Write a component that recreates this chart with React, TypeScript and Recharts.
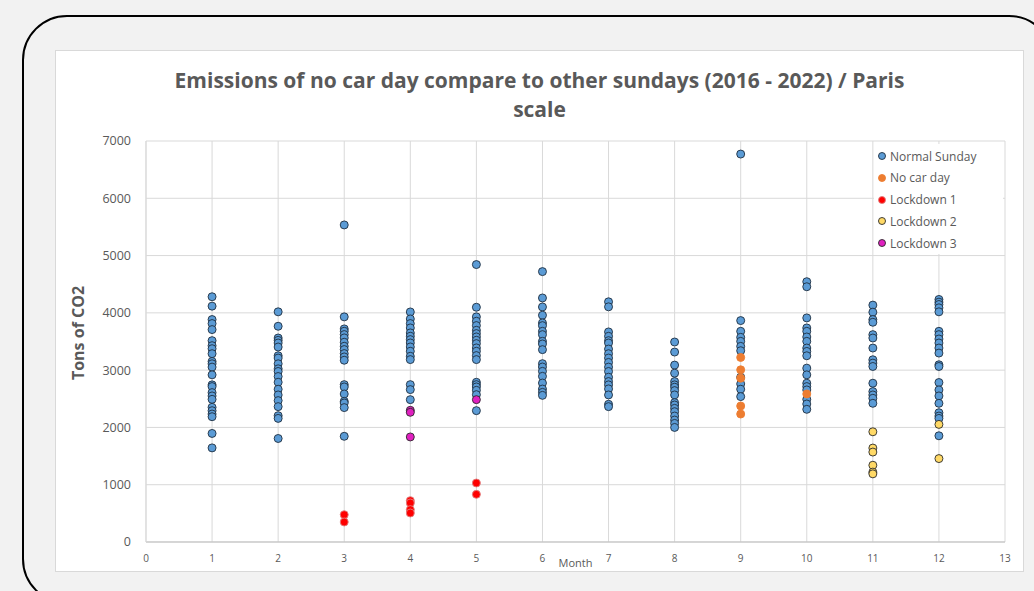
import { ScatterChart, Scatter, XAxis, YAxis, CartesianGrid } from 'recharts'

const xTicks = [0, 1, 2, 3, 4, 5, 6, 7, 8, 9, 10, 11, 12, 13]
const yTicks = [0, 1000, 2000, 3000, 4000, 5000, 6000, 7000]

// one list per month (1..12)
const normalSunday: number[][] = [
  [4281, 4117, 3883, 3813, 3708, 3515, 3427, 3374, 3287, 3152, 3111, 3053, 2918, 2743, 2713, 2608, 2550, 2491, 2351, 2292, 2234, 2187, 1895, 1643],
  [4018, 3766, 3561, 3520, 3474, 3404, 3251, 3211, 3111, 3023, 2977, 2889, 2789, 2667, 2567, 2468, 2363, 2205, 2158, 1807],
  [5535, 3930, 3720, 3679, 3621, 3563, 3487, 3417, 3359, 3289, 3231, 3173, 2747, 2707, 2584, 2456, 2427, 2346, 1845],
  [4016, 3894, 3813, 3737, 3650, 3592, 3533, 3475, 3405, 3330, 3242, 3184, 2747, 2660, 2485],
  [4843, 4098, 3930, 3854, 3778, 3696, 3638, 3580, 3522, 3463, 3388, 3330, 3254, 3184, 2788, 2747, 2707, 2648, 2572, 2293],
  [4720, 4260, 4103, 3958, 3824, 3777, 3678, 3620, 3503, 3457, 3358, 3113, 3055, 2979, 2892, 2775, 2670, 2612, 2560],
  [4193, 4105, 3667, 3591, 3515, 3474, 3368, 3287, 3211, 3135, 3053, 2977, 2877, 2801, 2743, 2673, 2567, 2404, 2363],
  [3491, 3316, 3088, 2947, 2801, 2743, 2702, 2643, 2567, 2433, 2392, 2333, 2275, 2199, 2129, 2070, 2000],
  [6772, 3865, 3678, 3573, 3503, 3415, 3339, 2877, 2760, 2667, 2538],
  [4544, 4456, 3912, 3737, 3678, 3579, 3503, 3386, 3327, 3251, 3035, 2918, 2772, 2713, 2655, 2491, 2409, 2316],
  [4135, 4012, 3883, 3836, 3620, 3561, 3386, 3181, 3123, 3064, 2772, 2626, 2567, 2509, 2421],
  [4234, 4187, 4146, 4088, 4018, 3678, 3620, 3544, 3474, 3386, 3298, 3094, 3064, 2784, 2655, 2550, 2421, 2257, 2199, 2158, 1854],
]

// [month, values]
const noCarDay: [number, number[]][] = [
  [9, [3222, 3006, 2860, 2374, 2234]],
  [10, [2585]],
]
const lockdown1: [number, number[]][] = [
  [3, [477, 349]],
  [4, [722, 681, 565, 506]],
  [5, [1030, 832]],
]
const lockdown2: [number, number[]][] = [
  [11, [1924, 1640, 1570, 1340, 1220, 1190]],
  [12, [2053, 1456]],
]
const lockdown3: [number, number[]][] = [
  [4, [2299, 2264, 1834]],
  [5, [2485]],
]

const toPoints = (rows: [number, number[]][]) =>
  rows.flatMap(([month, vals]) => vals.map((value) => ({ month, value })))

const normalData = toPoints(normalSunday.map((v, i) => [i + 1, v] as [number, number[]]))

const SERIES = [
  { name: 'Normal Sunday', data: normalData, fill: '#5b9bd5', stroke: '#1f2f40' },
  { name: 'No car day', data: toPoints(noCarDay), fill: '#ed7d31', stroke: '#ed7d31' },
  { name: 'Lockdown 1', data: toPoints(lockdown1), fill: '#ff0000', stroke: '#e08080' },
  { name: 'Lockdown 2', data: toPoints(lockdown2), fill: '#ffd966', stroke: '#2a2a2a' },
  { name: 'Lockdown 3', data: toPoints(lockdown3), fill: '#e020c0', stroke: '#2a2a2a' },
]

const FONT = '"Open Sans", sans-serif'
const TEXT = '#595959'

const dot = (fill: string, stroke: string) => (props: any) => (
  <circle cx={props.cx} cy={props.cy} r={4} fill={fill} stroke={stroke} strokeWidth={0.9} />
)

export default function App() {
  return (
    <div
      style={{
        position: 'fixed',
        left: 0,
        top: 0,
        width: 1034,
        height: 591,
        background: '#f2f2f2',
        overflow: 'hidden',
        fontFamily: FONT,
      }}
    >
      <div
        style={{
          position: 'absolute',
          left: 22,
          top: 15,
          width: 1028,
          height: 585,
          border: '2px solid #000',
          borderRadius: 45,
        }}
      />
      <div
        style={{
          position: 'absolute',
          left: 55,
          top: 50,
          width: 969,
          height: 522,
          background: '#fff',
          boxSizing: 'border-box',
          border: '1px solid #d9d9d9',
        }}
      >
        <div
          style={{
            position: 'absolute',
            left: 0,
            top: 15,
            width: '100%',
            textAlign: 'center',
            color: TEXT,
            fontWeight: 700,
            fontSize: 21,
            lineHeight: '29px',
          }}
        >
          <div>Emissions of no car day compare to other sundays (2016 - 2022) / Paris</div>
          <div>scale</div>
        </div>

        <div
          style={{
            position: 'absolute',
            left: 22,
            top: 282,
            transform: 'translate(-50%, -50%) rotate(-90deg)',
            color: TEXT,
            fontWeight: 700,
            fontSize: 16,
            whiteSpace: 'nowrap',
          }}
        >
          Tons of CO2
        </div>

        <div style={{ position: 'absolute', left: -1, top: -1 }}>
          <ScatterChart width={969} height={522} margin={{ top: 91, right: 19, bottom: 0, left: 0 }}>
            <CartesianGrid stroke="#d9d9d9" />
            <XAxis
              type="number"
              dataKey="month"
              domain={[0, 13]}
              ticks={xTicks}
              interval={0}
              height={30}
              tickLine={false}
              tickMargin={7}
              axisLine={{ stroke: '#bfbfbf' }}
              tick={{ fontSize: 10, fill: TEXT, fontFamily: FONT }}
              label={{ value: 'Month', position: 'insideBottom', offset: 5, fontSize: 11, fill: TEXT, fontFamily: FONT }}
            />
            <YAxis
              type="number"
              dataKey="value"
              domain={[0, 7000]}
              ticks={yTicks}
              interval={0}
              width={91}
              tickLine={false}
              tickMargin={9}
              axisLine={{ stroke: '#d9d9d9' }}
              tick={{ fontSize: 12.5, fill: TEXT, fontFamily: FONT }}
            />
            {SERIES.map((s) => (
              <Scatter
                key={s.name}
                name={s.name}
                data={s.data}
                shape={dot(s.fill, s.stroke)}
                isAnimationActive={false}
              />
            ))}
          </ScatterChart>
        </div>

        <div
          style={{
            position: 'absolute',
            left: 818,
            top: 93,
            width: 129,
            height: 110,
            background: '#fff',
            color: TEXT,
            fontSize: 12,
          }}
        >
          {SERIES.map((s, i) => (
            <div
              key={s.name}
              style={{ position: 'absolute', left: 0, top: 3 + i * 21.8, height: 18, display: 'flex', alignItems: 'center' }}
            >
              <svg width={16} height={10}>
                <circle cx={8} cy={5} r={3.5} fill={s.fill} stroke={s.stroke} strokeWidth={0.9} />
              </svg>
              <span style={{ whiteSpace: 'nowrap' }}>{s.name}</span>
            </div>
          ))}
        </div>
      </div>
    </div>
  )
}
